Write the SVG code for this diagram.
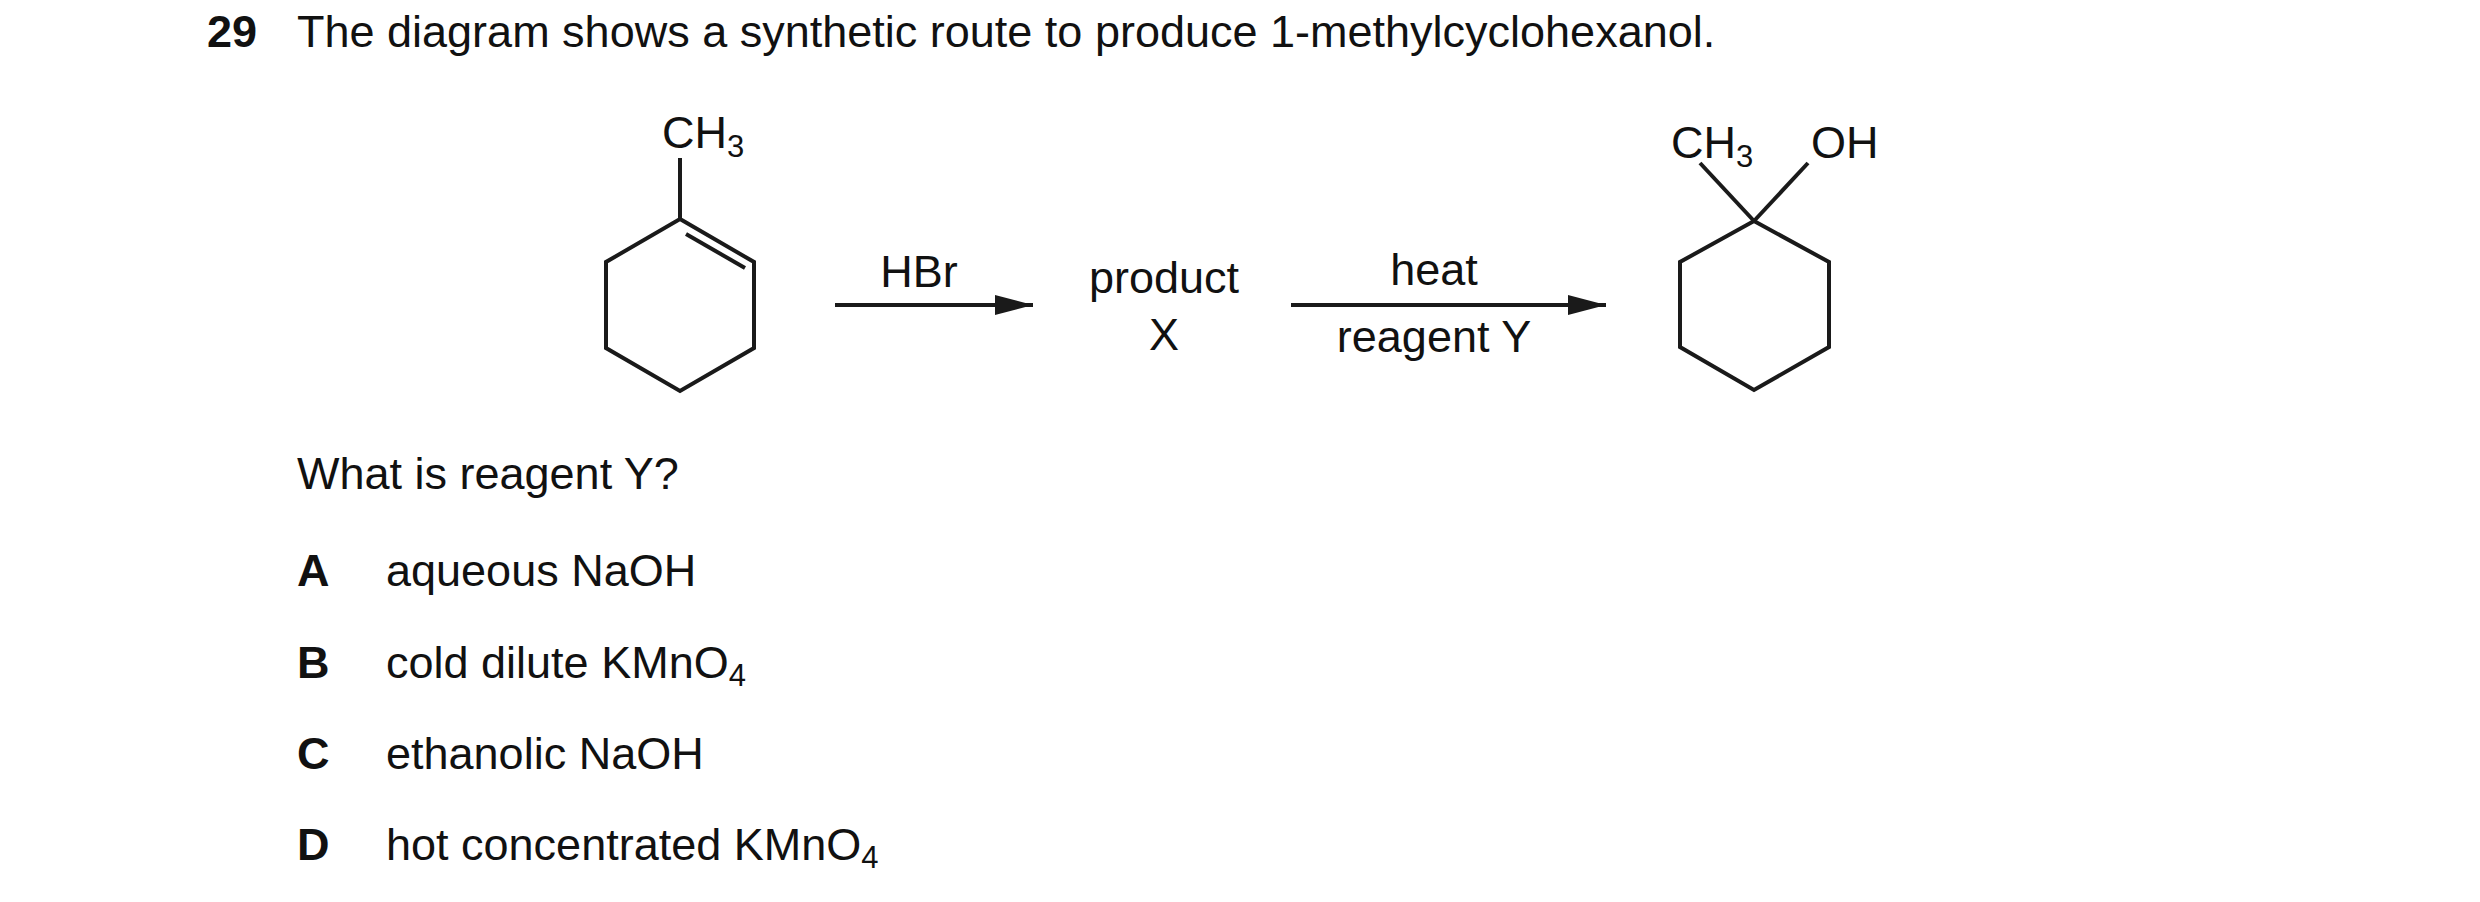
<svg xmlns="http://www.w3.org/2000/svg" width="2480" height="902" viewBox="0 0 2480 902">
<style>
text{font-family:"Liberation Sans",Arial,sans-serif;font-size:45px;fill:#111}
.b{font-weight:bold}
.m{text-anchor:middle}
.sub{font-size:31px}
.bond{fill:none;stroke:#1a1a1a;stroke-width:4;stroke-linejoin:miter}
.arr{stroke:#1a1a1a;stroke-width:4}
</style>
<defs><marker id="ah" viewBox="0 0 38 20" refX="38" refY="10" markerWidth="38" markerHeight="20" markerUnits="userSpaceOnUse" orient="auto"><path d="M0,0 L38,10 L0,20 Z" fill="#1a1a1a"/></marker></defs>
<text x="207" y="47" class="b">29</text>
<text x="297" y="47">The diagram shows a synthetic route to produce 1-methylcyclohexanol.</text>
<g id="methylcyclohexene">
<polygon class="bond" points="680,219 754,262 754,348 680,391 606,348 606,262"/>
<line class="bond" x1="686" y1="234" x2="745" y2="268"/>
<line class="bond" x1="680" y1="219" x2="680" y2="158"/>
<text x="662" y="148">CH<tspan class="sub" dy="9">3</tspan></text>
</g>
<g id="productX">
<text x="1164" y="293" class="m">product</text>
<text x="1164" y="350" class="m">X</text>
</g>
<g id="methylcyclohexanol">
<polygon class="bond" points="1754,221 1829,262 1829,347 1754,390 1680,347 1680,262"/>
<line class="bond" x1="1754" y1="221" x2="1700" y2="163"/>
<line class="bond" x1="1754" y1="221" x2="1808" y2="163"/>
<text x="1671" y="158">CH<tspan class="sub" dy="9">3</tspan></text>
<text x="1811" y="158">OH</text>
</g>
<g id="connectors">
<line class="arr" x1="835" y1="305" x2="1033" y2="305" marker-end="url(#ah)"/>
<text x="919" y="287" class="m">HBr</text>
<line class="arr" x1="1291" y1="305" x2="1606" y2="305" marker-end="url(#ah)"/>
<text x="1434" y="285" class="m">heat</text>
<text x="1434" y="352" class="m">reagent Y</text>
</g>
<text x="297" y="489">What is reagent Y?</text>
<text x="297" y="586" class="b">A</text><text x="386" y="586">aqueous NaOH</text>
<text x="297" y="678" class="b">B</text><text x="386" y="678">cold dilute KMnO<tspan class="sub" dy="8">4</tspan></text>
<text x="297" y="769" class="b">C</text><text x="386" y="769">ethanolic NaOH</text>
<text x="297" y="860" class="b">D</text><text x="386" y="860">hot concentrated KMnO<tspan class="sub" dy="8">4</tspan></text>
</svg>
